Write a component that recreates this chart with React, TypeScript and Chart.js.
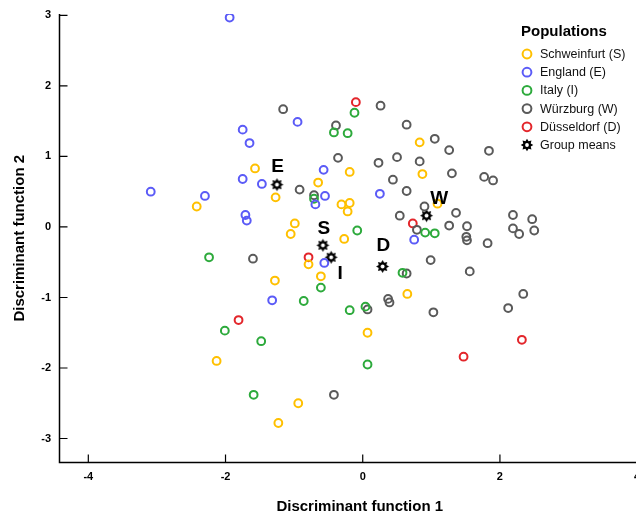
import React, { useEffect, useRef } from "react";
import { Chart, registerables } from "chart.js";

Chart.register(...registerables);

const FONT = '"Liberation Sans", Arial, Helvetica, sans-serif';

// ---------- data ----------
const populations = ["Schweinfurt (S)", "England (E)", "Italy (I)", "Würzburg (W)", "Düsseldorf (D)"];
const popColors = ["#FFC000", "#5B5BF7", "#2DAA3C", "#5A5A5A", "#E3262B"];

const schweinfurt = [
  [-1.57, 0.83], [-1.27, 0.42], [-2.42, 0.29], [0.83, 1.2], [0.87, 0.75], [-0.19, 0.78],
  [-0.65, 0.63], [-0.31, 0.32], [-0.19, 0.34], [-0.22, 0.22], [1.09, 0.33], [-0.99, 0.05],
  [-1.05, -0.1], [-0.27, -0.17], [-0.79, -0.53], [-0.61, -0.7], [-1.28, -0.76], [-2.13, -1.9],
  [-0.94, -2.5], [-1.23, -2.78], [0.65, -0.95], [0.07, -1.5],
];
const england = [
  [-1.94, 2.97], [-1.75, 1.38], [-1.65, 1.19], [-1.75, 0.68], [-1.47, 0.61], [-3.09, 0.5],
  [-2.3, 0.44], [-1.71, 0.17], [-1.69, 0.09], [-0.95, 1.49], [-0.57, 0.81], [0.25, 0.47],
  [-0.55, 0.44], [-0.69, 0.32], [0.75, -0.18], [-0.56, -0.51], [-1.32, -1.04],
];
const italy = [
  [-0.12, 1.62], [-0.42, 1.34], [-0.22, 1.33], [-0.71, 0.4], [0.91, -0.08], [1.05, -0.09],
  [-0.08, -0.05], [-2.24, -0.43], [-0.61, -0.86], [-0.86, -1.05], [-2.01, -1.47], [-1.48, -1.62],
  [-1.59, -2.38], [-0.19, -1.18], [0.04, -1.13], [0.58, -0.65], [0.07, -1.95],
];
const wurzburg = [
  [-1.16, 1.67], [0.26, 1.72], [-0.39, 1.44], [0.64, 1.45], [1.05, 1.25], [1.26, 1.09],
  [1.84, 1.08], [-0.36, 0.98], [0.23, 0.91], [0.5, 0.99], [0.83, 0.93], [1.3, 0.76],
  [1.77, 0.71], [1.9, 0.66], [-0.92, 0.53], [0.44, 0.67], [0.64, 0.51], [-0.71, 0.45],
  [0.9, 0.29], [1.36, 0.2], [0.54, 0.16], [2.19, 0.17], [1.26, 0.02], [1.52, 0.01],
  [2.19, -0.02], [2.28, -0.1], [2.47, 0.11], [2.5, -0.05], [0.79, -0.04], [1.51, -0.14],
  [1.52, -0.19], [1.82, -0.23], [0.99, -0.47], [-1.6, -0.45], [1.56, -0.63], [0.64, -0.66],
  [0.37, -1.02], [0.39, -1.07], [2.34, -0.95], [2.12, -1.15], [1.03, -1.21], [0.07, -1.17],
  [-0.42, -2.38],
];
const dusseldorf = [
  [-0.1, 1.77], [0.73, 0.05], [-0.79, -0.43], [-1.81, -1.32], [2.32, -1.6], [1.47, -1.84],
];
const groupSeries = [schweinfurt, england, italy, wurzburg, dusseldorf];

const meanLabels = ["E", "S", "I", "D", "W"];
const meanPoints = [[-1.25, 0.6], [-0.58, -0.26], [-0.46, -0.43], [0.29, -0.56], [0.93, 0.16]];

const xTicks = [-4, -2, 0, 2, 4];
const yTicks = [-3, -2, -1, 0, 1, 2, 3];
const xTitle = "Discriminant function 1";
const yTitle = "Discriminant function 2";
const legendTitle = "Populations";
const meansLegend = "Group means";

// ---------- helpers ----------
function drawStar(ctx: CanvasRenderingContext2D, cx: number, cy: number, ro: number) {
  const ri = ro * 0.64;
  ctx.beginPath();
  for (let i = 0; i < 16; i++) {
    const a = (i * Math.PI) / 8 - Math.PI / 2;
    const r = i % 2 === 0 ? ro : ri;
    const px = cx + r * Math.cos(a);
    const py = cy + r * Math.sin(a);
    if (i === 0) ctx.moveTo(px, py);
    else ctx.lineTo(px, py);
  }
  ctx.closePath();
  ctx.fillStyle = "#000";
  ctx.fill();
  ctx.beginPath();
  ctx.arc(cx, cy, ro * 0.3, 0, Math.PI * 2);
  ctx.fillStyle = "#fff";
  ctx.fill();
}

function makeStarImage(): HTMLCanvasElement {
  const c = document.createElement("canvas");
  c.width = 15;
  c.height = 15;
  const g = c.getContext("2d")!;
  drawStar(g, 7.5, 7.5, 6.5);
  return c;
}

// label offsets relative to the mean marker (pixels)
const labelOffsets: Record<string, [number, number]> = {
  E: [0.5, -19],
  S: [0.8, -18.3],
  I: [9, 14.7],
  D: [0.7, -22.7],
  W: [12.8, -18.3],
};

const decorPlugin = {
  id: "decor",
  afterDraw(chart: any) {
    const { ctx, chartArea, scales } = chart;
    const xs = scales.x;
    const ys = scales.y;
    const { left, right, top, bottom } = chartArea;
    ctx.save();

    // axis lines
    ctx.strokeStyle = "#000";
    ctx.lineWidth = 1.5;
    ctx.beginPath();
    ctx.moveTo(left, top);
    ctx.lineTo(left, bottom);
    ctx.lineTo(right, bottom);
    ctx.stroke();

    // inward tick marks
    ctx.lineWidth = 1.2;
    ctx.beginPath();
    xTicks.forEach((v) => {
      const px = xs.getPixelForValue(v);
      ctx.moveTo(px, bottom);
      ctx.lineTo(px, bottom - 8);
    });
    yTicks.forEach((v) => {
      const py = ys.getPixelForValue(v);
      ctx.moveTo(left, py);
      ctx.lineTo(left + 8, py);
    });
    ctx.stroke();

    // mean labels
    ctx.fillStyle = "#000";
    ctx.font = `bold 19px ${FONT}`;
    ctx.textAlign = "center";
    ctx.textBaseline = "alphabetic";
    meanLabels.forEach((lab, i) => {
      const px = xs.getPixelForValue(meanPoints[i][0]);
      const py = ys.getPixelForValue(meanPoints[i][1]);
      const [dx, dy] = labelOffsets[lab];
      ctx.fillText(lab, px + dx, py + dy + 6.8);
    });

    // axis titles
    ctx.font = `bold 15px ${FONT}`;
    ctx.textBaseline = "middle";
    ctx.fillText(xTitle, xs.getPixelForValue(0) - 3, 507);
    ctx.save();
    ctx.translate(20, (top + bottom) / 2);
    ctx.rotate(-Math.PI / 2);
    ctx.fillText(yTitle, 0, 0);
    ctx.restore();

    // legend
    const lx = 527;
    const ly0 = 54;
    const step = 18.2;
    ctx.textAlign = "left";
    ctx.font = `bold 15px ${FONT}`;
    ctx.fillStyle = "#000";
    ctx.fillText(legendTitle, 521, 32);
    ctx.font = `12.5px ${FONT}`;
    populations.forEach((name, i) => {
      const y = ly0 + i * step;
      ctx.beginPath();
      ctx.arc(lx, y, 4.4, 0, Math.PI * 2);
      ctx.strokeStyle = popColors[i];
      ctx.lineWidth = 2;
      ctx.stroke();
      ctx.fillStyle = "#111";
      ctx.fillText(name, 540, y + 0.5);
    });
    const ym = ly0 + populations.length * step;
    drawStar(ctx, lx, ym, 6.3);
    ctx.fillStyle = "#111";
    ctx.fillText(meansLegend, 540, ym + 0.5);

    ctx.restore();
  },
};

export default function App() {
  const canvasRef = useRef<HTMLCanvasElement | null>(null);

  useEffect(() => {
    if (!canvasRef.current) return;
    const star = makeStarImage();
    const datasets: any[] = groupSeries.map((series, i) => ({
      label: populations[i],
      data: series.map(([x, y]) => ({ x, y })),
      pointStyle: "circle",
      pointRadius: 3.9,
      pointBorderWidth: 2,
      pointBorderColor: popColors[i],
      pointBackgroundColor: "rgba(0,0,0,0)",
      showLine: false,
    }));
    datasets.push({
      label: meansLegend,
      data: meanPoints.map(([x, y]) => ({ x, y })),
      pointStyle: star,
      pointRadius: 7,
      showLine: false,
    });

    const tickFont = { family: FONT, size: 11, weight: "bold" as const };

    const chart = new Chart(canvasRef.current, {
      type: "scatter",
      data: { datasets },
      options: {
        animation: false,
        responsive: false,
        devicePixelRatio: 1,
        events: [],
        layout: { padding: { top: 14, right: 16, left: 0, bottom: 0 } },
        plugins: {
          legend: { display: false },
          tooltip: { enabled: false },
        },
        scales: {
          x: {
            type: "linear",
            min: -4.42,
            max: 4.1,
            grid: { display: false, drawTicks: false },
            border: { display: false },
            ticks: {
              font: tickFont,
              color: "#000",
              padding: 8,
              includeBounds: false,
              autoSkip: false,
              maxRotation: 0,
              callback: (v: any) => String(v),
            },
            afterBuildTicks: (scale: any) => {
              scale.ticks = xTicks.map((v) => ({ value: v }));
            },
            afterFit: (scale: any) => {
              scale.height = 54.5;
              scale.paddingLeft = 0;
              scale.paddingRight = 0;
            },
          },
          y: {
            type: "linear",
            min: -3.34,
            max: 3.02,
            grid: { display: false, drawTicks: false },
            border: { display: false },
            ticks: {
              font: tickFont,
              color: "#000",
              padding: 8.5,
              includeBounds: false,
              autoSkip: false,
              callback: (v: any) => String(v),
            },
            afterBuildTicks: (scale: any) => {
              scale.ticks = yTicks.map((v) => ({ value: v }));
            },
            afterFit: (scale: any) => {
              scale.width = 59.5;
              scale.paddingTop = 0;
              scale.paddingBottom = 0;
            },
          },
        },
      },
      plugins: [decorPlugin],
    });
    return () => chart.destroy();
  }, []);

  return (
    <div
      style={{
        position: "fixed",
        left: 0,
        top: 0,
        width: 636,
        height: 517,
        overflow: "hidden",
        background: "#fff",
      }}
    >
      <canvas ref={canvasRef} width={660} height={517} style={{ display: "block", width: 660, height: 517 }} />
    </div>
  );
}
